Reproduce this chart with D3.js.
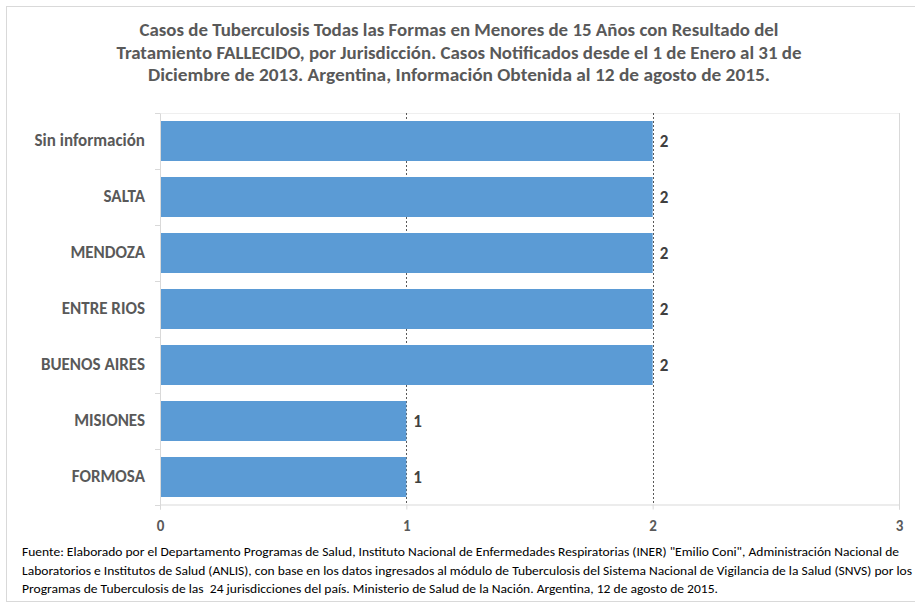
<!DOCTYPE html>
<html>
<head>
<meta charset="utf-8">
<script src="https://cdn.jsdelivr.net/npm/d3@7"></script>
<style>
  body { margin: 0; background: #fff; }
  text { font-family: Carlito, Calibri, "Liberation Sans", Arial, sans-serif; }
  .foot { white-space: pre; }
</style>
</head>
<body>
<svg id="chart" width="915" height="605"></svg>
<script>
// data
const jurisdicciones = ['Sin información', 'SALTA', 'MENDOZA', 'ENTRE RIOS', 'BUENOS AIRES', 'MISIONES', 'FORMOSA'];
const casos = [2, 2, 2, 2, 2, 1, 1];
const xTicks = [0, 1, 2, 3];

const titleLines = [
	'Casos de Tuberculosis Todas las Formas en Menores de 15 Años con Resultado del',
	'Tratamiento FALLECIDO, por Jurisdicción. Casos Notificados desde el 1 de Enero al 31 de',
	'Diciembre de 2013. Argentina, Información Obtenida al 12 de agosto de 2015.'
];
const footLines = [
	'Fuente: Elaborado por el Departamento Programas de Salud, Instituto Nacional de Enfermedades Respiratorias (INER) "Emilio Coni", Administración Nacional de',
	'Laboratorios e Institutos de Salud (ANLIS), con base en los datos ingresados al módulo de Tuberculosis del Sistema Nacional de Vigilancia de la Salud (SNVS) por los',
	'Programas de Tuberculosis de las  24 jurisdicciones del país. Ministerio de Salud de la Nación. Argentina, 12 de agosto de 2015.'
];

const svg = d3.select('#chart');
const grey = '#595959';
const light = '#d9d9d9';

const margin = { left: 160, right: 16, top: 113, bottom: 100 };
const W = 915, H = 605;

// outer frame
svg.append('rect')
	.attr('x', 6.5).attr('y', 6.5)
	.attr('width', W + 10).attr('height', H - 10)
	.attr('fill', 'none').attr('stroke', light);

// title
const titleWidths = [639, 685, 622];
svg.append('g').selectAll('text')
	.data(titleLines)
	.join('text')
	.attr('x', 459)
	.attr('y', (d, i) => 36 + i * 22.5)
	.attr('text-anchor', 'middle')
	.attr('font-size', 17)
	.attr('font-weight', 'bold')
	.attr('fill', grey)
	.attr('textLength', (d, i) => titleWidths[i])
	.attr('lengthAdjust', 'spacingAndGlyphs')
	.text(d => d);

const x = d3.scaleLinear()
	.domain([0, 3])
	.range([margin.left, W - margin.right]);

const y = d3.scaleBand()
	.domain(jurisdicciones)
	.range([margin.top, 505])
	.paddingInner(0.286)
	.paddingOuter(0.143);

const plot = svg.append('g');

// plot border top
plot.append('line')
	.attr('x1', x(0)).attr('x2', x(3))
	.attr('y1', margin.top + 0.5).attr('y2', margin.top + 0.5)
	.attr('stroke', '#efefef');

// vertical grid
plot.selectAll('.grid')
	.data(xTicks.slice(1))
	.join('line')
	.attr('class', 'grid')
	.attr('x1', d => Math.round(x(d)) + 0.5).attr('x2', d => Math.round(x(d)) + 0.5)
	.attr('y1', margin.top).attr('y2', 505)
	.attr('stroke', d => d === 3 ? light : grey)
	.attr('stroke-dasharray', d => d === 3 ? null : '2,2');

// bars
plot.selectAll('.bar')
	.data(jurisdicciones)
	.join('rect')
	.attr('class', 'bar')
	.attr('x', x(0))
	.attr('y', d => y(d))
	.attr('width', (d, i) => x(casos[i]) - x(0))
	.attr('height', y.bandwidth())
	.attr('fill', '#5b9bd5');

// value labels
plot.selectAll('.val')
	.data(jurisdicciones)
	.join('text')
	.attr('class', 'val')
	.attr('x', (d, i) => x(casos[i]) + 7)
	.attr('y', d => y(d) + y.bandwidth() / 2)
	.attr('dy', '0.35em')
	.attr('font-size', 17)
	.attr('font-weight', 'bold')
	.attr('fill', '#404040')
	.text((d, i) => casos[i]);

// y axis
const yAxis = d3.axisLeft(y).tickSize(0).tickPadding(15);
const yg = svg.append('g')
	.attr('transform', `translate(${x(0)},0)`)
	.call(yAxis);
yg.select('.domain').attr('stroke', light);
yg.selectAll('text')
	.attr('font-size', 17)
	.attr('font-weight', 'bold')
	.attr('fill', grey);

// category separators
const step = y.step();
svg.append('g').selectAll('line')
	.data(d3.range(jurisdicciones.length + 1))
	.join('line')
	.attr('x1', x(0) - 5).attr('x2', x(0))
	.attr('y1', i => margin.top + i * step + 0.5)
	.attr('y2', i => margin.top + i * step + 0.5)
	.attr('stroke', light);

// x axis
const xAxis = d3.axisBottom(x).tickValues(xTicks).tickFormat(d3.format('d')).tickSize(5).tickPadding(11);
const xg = svg.append('g')
	.attr('transform', `translate(0,504.5)`)
	.call(xAxis);
xg.select('.domain').attr('stroke', light);
xg.selectAll('.tick line').attr('stroke', light);
xg.selectAll('text')
	.attr('font-size', 15)
	.attr('font-weight', 'bold')
	.attr('fill', grey);

// footnote
const footWidths = [877, 890, 696];
svg.append('g').selectAll('text')
	.data(footLines)
	.join('text')
	.attr('class', 'foot')
	.attr('x', 22)
	.attr('y', (d, i) => 556 + i * 18.5)
	.attr('font-size', 12)
	.attr('fill', '#000')
	.attr('textLength', (d, i) => footWidths[i])
	.attr('lengthAdjust', 'spacingAndGlyphs')
	.text(d => d);
</script>
</body>
</html>
